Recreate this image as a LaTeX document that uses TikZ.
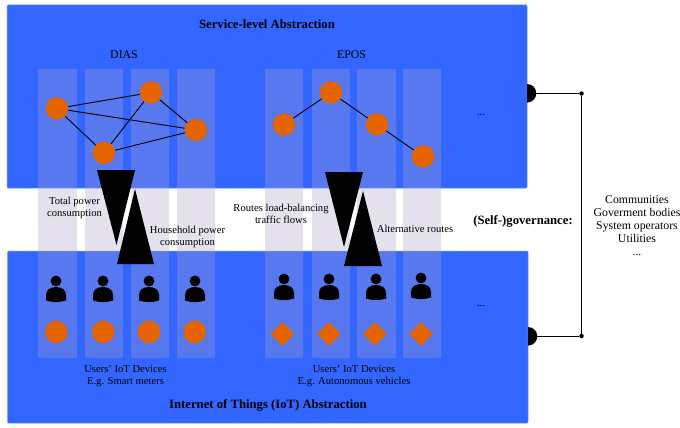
\documentclass[tikz,border=0pt]{standalone}
\usepackage{fontspec}
\setmainfont[Ligatures=NoCommon]{Liberation Serif}
\usetikzlibrary{shapes.geometric}
\definecolor{panelblue}{HTML}{3366FF}
\definecolor{stripc}{HTML}{ACA2CA}
\definecolor{nodeor}{HTML}{E46400}
\tikzset{
  x=1pt,y=-1pt,
  panel/.style={draw=panelblue!70!white,line width=.5pt,fill=panelblue,rounded corners=1pt},
  stripbox/.style={fill=stripc,fill opacity=.3,rounded corners=1pt},
  agent/.style={circle,fill=nodeor,minimum size=22.5pt,inner sep=0pt},
  device/.style={regular polygon,regular polygon sides=8,fill=nodeor,minimum size=23.5pt,inner sep=0pt},
  dev2/.style={diamond,aspect=1,fill=nodeor,minimum size=24pt,inner sep=0pt},
  link/.style={draw=black,line width=.9pt},
  tri/.style={fill=black},
  lab/.style={font=\fontsize{10.6}{12}\selectfont,align=center,text=black,inner sep=0pt},
  labbig/.style={font=\fontsize{11.8}{13}\selectfont,align=center,text=black,inner sep=0pt},
  head/.style={font=\bfseries\fontsize{12.7}{14}\selectfont,align=center,text=black,inner sep=0pt},
  wire/.style={draw=black,line width=.9pt},
  dot/.style={circle,fill=black,minimum size=4.5pt,inner sep=0pt},
  port/.style={fill=black}
}
\newcommand{\person}[2]{%
  \fill[black] (#1,#2-13) circle (5.4);
  \fill[black] (#1-10,#2+6.5) -- (#1-10,#2+1) .. controls (#1-10,#2-4) and (#1-6,#2-7) .. (#1,#2-7)
     .. controls (#1+6,#2-7) and (#1+10,#2-4) .. (#1+10,#2+1) -- (#1+10,#2+6.5)
     .. controls (#1+4,#2+8.6) and (#1-4,#2+8.6) .. (#1-10,#2+6.5) -- cycle;
}
\begin{document}
\begin{tikzpicture}
\useasboundingbox (0,0) rectangle (680,428);
\fill[white] (0,0) rectangle (680,428);
% panels
\draw[panel] (7,5) rectangle (527,188);
\draw[panel] (7.5,251) rectangle (528,423);
% strips
\foreach \a/\b in {38/77,85/123,131/169,177/215,265/303,312/350,357/396,403/441}{
  \fill[stripbox] (\a,69) rectangle (\b,358);
}
% service-level nodes
\node[agent] (d1) at (57,108.5) {};
\node[agent] (d2) at (151,92.5) {};
\node[agent] (d3) at (196,130) {};
\node[agent] (d4) at (104,153) {};
\draw[link] (d1)--(d2) (d1)--(d3) (d1)--(d4) (d2)--(d3) (d2)--(d4) (d3)--(d4);
\node[agent] (e1) at (284,124.5) {};
\node[agent] (e2) at (331,92.5) {};
\node[agent] (e3) at (377,124.5) {};
\node[agent] (e4) at (423,156.5) {};
\draw[link] (e1)--(e2) (e2)--(e3) (e3)--(e4);
% triangles
\fill[tri] (97,170)--(135,170)--(116.5,245)--cycle;
\fill[tri] (135,189)--(154,264)--(117,264)--cycle;
\fill[tri] (325,172)--(363,172)--(344,247)--cycle;
\fill[tri] (363,191)--(382,266)--(344,266)--cycle;
% people
\person{56}{294}\person{103}{294}\person{149}{294}\person{195}{294}
\person{284}{292}\person{329}{292}\person{376}{292}\person{421}{291}
% devices
\node[device] (i1) at (56.3,332) {};
\node[device] (i2) at (103.3,332) {};
\node[device] (i3) at (149,332) {};
\node[device] (i4) at (194.7,332) {};
\node[dev2] (v1) at (282.5,334) {};
\node[dev2] (v2) at (329,334) {};
\node[dev2] (v3) at (375,334) {};
\node[dev2] (v4) at (421,334) {};
% labels
\node[head] (t1) at (267,24.5) {Service-level Abstraction};
\node[head] (t2) at (268,405.5) {Internet of Things (IoT) Abstraction};
\node[labbig] (l1) at (124,55) {DIAS};
\node[labbig] (l2) at (351.5,55) {EPOS};
\node[lab] (l3) at (74.5,208) {Total power\\consumption};
\node[lab] (l4) at (187.5,237) {Household power\\consumption};
\node[lab] (l5) at (281,214) {Routes load-balancing\\traffic flows};
\node[lab] (l6) at (415,228.5) {Alternative routes};
\node[lab] (l7) at (125.5,376.5) {Users' IoT Devices\\E.g. Smart meters};
\node[lab] (l8) at (354,376.5) {Users' IoT Devices\\E.g. Autonomous vehicles};
\node[lab] (l9) at (481,115) {...};
\node[lab] (l10) at (481,306) {...};
\node[head] (l11) at (523,221) {(Self-)governance:};
\node[labbig] (l12) at (637,225.5) {Communities\\Goverment bodies\\System operators\\Utilities\\...};
% governance
\fill[port] (527,84) arc (-90:90:9.3) -- cycle;
\fill[port] (528,327) arc (-90:90:9.3) -- cycle;
\coordinate (p1) at (536,93.5);
\coordinate (p2) at (537,336);
\node[dot] (j1) at (581.5,93.5) {};
\node[dot] (j2) at (581.5,336) {};
\draw[wire] (p1)--(j1)--(j2)--(p2);
\end{tikzpicture}
\end{document}
